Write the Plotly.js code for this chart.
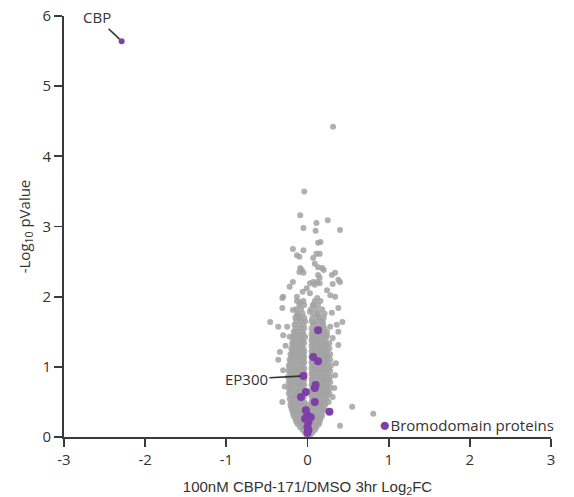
<!DOCTYPE html>
<html>
<head>
<meta charset="utf-8">
<script src="https://cdn.plot.ly/plotly-3.0.1.min.js"></script>
<style>html,body{margin:0;padding:0;background:#fff;}#chart{width:574px;height:497px;}</style>
</head>
<body>
<div id="chart"></div>
<script>
// ---- Data ----
// Gray: all quantified proteins, [log2FC, -log10 p]
const grayPoints = [
  [-0.01,0.02],[0.03,0.02],
  [-0.03,0.06],[0.02,0.06],[0.06,0.06],
  [-0.06,0.10],[-0.01,0.10],[0.04,0.10],[0.09,0.10],
  [-0.09,0.14],[-0.04,0.14],[0.01,0.14],[0.06,0.14],[0.11,0.14],
  [-0.12,0.18],[-0.07,0.18],[-0.03,0.18],[0.01,0.18],[0.06,0.18],[0.10,0.18],[0.14,0.18],
  [-0.14,0.22],[-0.09,0.22],[-0.04,0.22],[0.01,0.22],[0.05,0.22],[0.10,0.22],[0.15,0.22],
  [-0.15,0.26],[-0.10,0.26],[-0.05,0.26],[0.00,0.26],[0.06,0.26],[0.11,0.26],[0.16,0.26],
  [-0.17,0.30],[-0.12,0.30],[-0.06,0.30],[0.00,0.30],[0.05,0.30],[0.12,0.30],[0.18,0.30],
  [-0.18,0.34],[-0.13,0.34],[-0.08,0.34],[-0.03,0.34],[0.01,0.34],[0.06,0.34],[0.11,0.34],[0.17,0.34],
  [-0.19,0.38],[-0.14,0.38],[-0.09,0.38],[-0.04,0.38],[0.01,0.38],[0.06,0.38],[0.12,0.38],[0.18,0.38],[0.21,0.38],
  [-0.20,0.42],[-0.15,0.42],[-0.10,0.42],[-0.04,0.42],[0.00,0.42],[0.05,0.42],[0.10,0.42],[0.15,0.42],[0.20,0.42],
  [-0.21,0.46],[-0.16,0.46],[-0.11,0.46],[-0.05,0.46],[0.00,0.46],[0.06,0.46],[0.12,0.46],[0.17,0.46],[0.22,0.46],
  [-0.20,0.50],[-0.15,0.50],[-0.09,0.50],[-0.04,0.50],[0.05,0.50],[0.11,0.50],[0.16,0.50],[0.21,0.50],[0.26,0.50],
  [-0.22,0.54],[-0.17,0.54],[-0.12,0.54],[-0.06,0.54],[0.06,0.54],[0.12,0.54],[0.18,0.54],[0.23,0.54],
  [-0.21,0.58],[-0.15,0.58],[-0.10,0.58],[-0.04,0.58],[0.05,0.58],[0.10,0.58],[0.15,0.58],[0.20,0.58],[0.24,0.58],
  [-0.23,0.62],[-0.17,0.62],[-0.11,0.62],[-0.05,0.62],[0.06,0.62],[0.12,0.62],[0.17,0.62],[0.22,0.62],[0.27,0.62],
  [-0.22,0.66],[-0.16,0.66],[-0.10,0.66],[-0.04,0.66],[0.05,0.66],[0.11,0.66],[0.16,0.66],[0.21,0.66],[0.25,0.66],
  [-0.23,0.70],[-0.18,0.70],[-0.12,0.70],[-0.06,0.70],[0.06,0.70],[0.12,0.70],[0.18,0.70],[0.23,0.70],[0.28,0.70],
  [-0.21,0.74],[-0.15,0.74],[-0.09,0.74],[-0.04,0.74],[0.05,0.74],[0.10,0.74],[0.15,0.74],[0.20,0.74],[0.25,0.74],
  [-0.23,0.78],[-0.17,0.78],[-0.11,0.78],[-0.05,0.78],[0.06,0.78],[0.12,0.78],[0.17,0.78],[0.22,0.78],[0.28,0.78],
  [-0.22,0.82],[-0.16,0.82],[-0.10,0.82],[-0.04,0.82],[0.05,0.82],[0.11,0.82],[0.16,0.82],[0.21,0.82],[0.26,0.82],
  [-0.24,0.86],[-0.18,0.86],[-0.12,0.86],[-0.06,0.86],[0.06,0.86],[0.12,0.86],[0.18,0.86],[0.23,0.86],[0.28,0.86],
  [-0.21,0.90],[-0.15,0.90],[-0.09,0.90],[-0.04,0.90],[0.05,0.90],[0.10,0.90],[0.15,0.90],[0.20,0.90],[0.25,0.90],
  [-0.23,0.94],[-0.17,0.94],[-0.11,0.94],[-0.05,0.94],[0.06,0.94],[0.12,0.94],[0.17,0.94],[0.22,0.94],[0.28,0.94],
  [-0.22,0.98],[-0.16,0.98],[-0.10,0.98],[-0.04,0.98],[0.05,0.98],[0.11,0.98],[0.16,0.98],[0.21,0.98],[0.26,0.98],
  [-0.23,1.02],[-0.18,1.02],[-0.12,1.02],[-0.06,1.02],[0.06,1.02],[0.12,1.02],[0.18,1.02],[0.23,1.02],[0.29,1.02],
  [-0.21,1.06],[-0.15,1.06],[-0.09,1.06],[-0.04,1.06],[0.05,1.06],[0.10,1.06],[0.15,1.06],[0.20,1.06],[0.25,1.06],
  [-0.22,1.10],[-0.17,1.10],[-0.11,1.10],[-0.05,1.10],[0.06,1.10],[0.12,1.10],[0.17,1.10],[0.22,1.10],[0.28,1.10],
  [-0.20,1.14],[-0.14,1.14],[-0.09,1.14],[-0.04,1.14],[0.05,1.14],[0.11,1.14],[0.16,1.14],[0.21,1.14],[0.25,1.14],
  [-0.21,1.18],[-0.16,1.18],[-0.10,1.18],[-0.05,1.18],[0.06,1.18],[0.12,1.18],[0.18,1.18],[0.23,1.18],[0.28,1.18],
  [-0.19,1.22],[-0.14,1.22],[-0.08,1.22],[-0.04,1.22],[0.05,1.22],[0.10,1.22],[0.15,1.22],[0.20,1.22],[0.24,1.22],
  [-0.20,1.26],[-0.15,1.26],[-0.10,1.26],[-0.05,1.26],[0.06,1.26],[0.12,1.26],[0.17,1.26],[0.22,1.26],[0.27,1.26],
  [-0.18,1.30],[-0.12,1.30],[-0.07,1.30],[0.05,1.30],[0.10,1.30],[0.15,1.30],[0.20,1.30],[0.24,1.30],
  [-0.19,1.34],[-0.14,1.34],[-0.09,1.34],[-0.04,1.34],[0.06,1.34],[0.12,1.34],[0.17,1.34],[0.22,1.34],[0.27,1.34],
  [-0.17,1.38],[-0.11,1.38],[-0.06,1.38],[0.05,1.38],[0.10,1.38],[0.15,1.38],[0.21,1.38],
  [-0.18,1.42],[-0.13,1.42],[-0.08,1.42],[-0.03,1.42],[0.06,1.42],[0.12,1.42],[0.17,1.42],[0.23,1.42],
  [-0.16,1.46],[-0.10,1.46],[-0.05,1.46],[0.05,1.46],[0.10,1.46],[0.16,1.46],[0.20,1.46],
  [-0.17,1.50],[-0.12,1.50],[-0.06,1.50],[0.06,1.50],[0.12,1.50],[0.18,1.50],[0.24,1.50],
  [-0.15,1.55],[-0.09,1.55],[-0.04,1.55],[0.05,1.55],[0.10,1.55],[0.16,1.55],[0.21,1.55],
  [-0.16,1.60],[-0.11,1.60],[-0.05,1.60],[0.07,1.60],[0.13,1.60],[0.19,1.60],
  [-0.14,1.65],[-0.08,1.65],[-0.03,1.65],[0.05,1.65],[0.11,1.65],[0.17,1.65],
  [-0.15,1.70],[-0.10,1.70],[-0.04,1.70],[0.06,1.70],[0.13,1.70],[0.20,1.70],
  [-0.12,1.76],[-0.06,1.76],[0.08,1.76],[0.14,1.76],[0.21,1.76],
  [-0.14,1.82],[-0.08,1.82],[0.04,1.82],[0.11,1.82],[0.18,1.82],
  [-0.10,1.88],[-0.04,1.88],[0.07,1.88],[0.13,1.88],
  [-0.13,1.94],[-0.05,1.94],[0.09,1.94],[0.16,1.94],
  // sparse upper points
  [-0.09,2.41],[-0.07,2.38],[0.13,2.42],[0.18,2.41],[0.34,2.34],[0.38,2.24],
  [-0.18,2.21],[-0.22,2.14],[0.12,2.21],[0.15,2.19],[-0.01,2.12],[-0.06,2.07],
  [0.03,2.05],[0.24,2.09],[0.28,2.02],[-0.30,2.00],[-0.31,1.84],[-0.13,2.00],
  [-0.09,1.92],[0.12,1.98],[0.07,1.88],[0.34,2.00],[0.38,1.84],[-0.18,1.81],
  [-0.13,1.74],[-0.09,1.70],[0.03,1.78],[0.12,1.74],[0.15,1.70],[0.07,1.64],
  [0.19,1.64],[0.30,1.77],[-0.46,1.64],[-0.36,1.57],[-0.25,1.57],[0.28,1.57],
  [0.36,1.60],[0.43,1.64],[-0.30,1.45],[-0.22,1.43],[0.24,1.45],[0.31,1.41],
  [0.315,4.42],[-0.04,3.50],[-0.09,3.16],[0.25,3.09],[-0.05,2.98],[0.11,3.05],
  [0.10,2.94],[0.40,2.95],[0.13,2.77],[0.16,2.78],[-0.18,2.68],[-0.05,2.66],
  [-0.13,2.59],[0.11,2.61],[0.15,2.61],[-0.10,2.57],[0.07,2.55],[0.09,2.47],
  [-0.10,2.35],[-0.05,2.34],[0.20,2.38],[0.30,2.31],[0.13,2.31],[0.15,2.27],
  [0.07,2.21],[0.03,2.19],[0.09,2.17],[0.40,2.21],[0.31,2.18],[-0.31,1.98],
  // side outliers
  [-0.34,1.21],[-0.36,1.10],[-0.31,0.50],[0.55,0.43],[0.38,1.31],[0.31,0.57],
  [0.81,0.33],[0.40,0.16],[-0.30,0.95],[-0.28,0.72],[0.34,0.88],[0.35,1.05],[0.33,0.70],
  [0.38,1.50],[-0.27,1.30]
];

// Purple: bromodomain proteins (CBP is the outlier on its own)
const cbpFC = [-2.29];
const cbpP  = [5.64];
const bromoFC = [0.13, 0.07, 0.13, -0.05, 0.10, 0.09, -0.02, -0.08, 0.09, 0.27, -0.02, 0.00, 0.04, -0.03, 0.01, 0.00, 0.01, 0.00];
const bromoP  = [1.52, 1.14, 1.08,  0.87, 0.74, 0.70,  0.64,  0.57, 0.50, 0.36,  0.38, 0.31, 0.28,  0.26, 0.21, 0.14, 0.10, 0.06];

const labelCBP = {name: "CBP", fc: -2.29, p: 5.64};
const labelEP300 = {name: "EP300", fc: -0.05, p: 0.87};
const legendLabel = "Bromodomain proteins";

const xTicks = [-3, -2, -1, 0, 1, 2, 3];
const yTicks = [0, 1, 2, 3, 4, 5, 6];

// ---- Plot ----
const purpleColor = "#7e3fa6";
const gray = {
  type: "scatter", mode: "markers",
  x: grayPoints.map(d => d[0]), y: grayPoints.map(d => d[1]),
  marker: {size: 6, color: "rgb(162,162,162)", opacity: 0.85},
  showlegend: false, hoverinfo: "x+y", cliponaxis: false
};
const purple = {
  type: "scatter", mode: "markers",
  x: bromoFC, y: bromoP,
  marker: {size: 8, color: purpleColor},
  name: legendLabel, showlegend: false, cliponaxis: false
};
const cbp = {
  type: "scatter", mode: "markers",
  x: cbpFC, y: cbpP,
  marker: {size: 6, color: purpleColor},
  name: "CBP", showlegend: false, cliponaxis: false
};

const tickFont = {family: "Open Sans, Noto Sans, sans-serif", size: 15, color: "#333"};
const axisCommon = {
  showline: true, linecolor: "#3a3a3a", linewidth: 1.8,
  ticks: "outside", ticklen: 8, tickwidth: 1.8, tickcolor: "#3a3a3a",
  showgrid: false, zeroline: false, tickfont: tickFont, fixedrange: true
};

const layout = {
  width: 574, height: 497,
  margin: {l: 64, r: 23, t: 16, b: 60},
  paper_bgcolor: "#fff", plot_bgcolor: "#fff",
  xaxis: Object.assign({}, axisCommon, {
    range: [-3, 3], tickvals: xTicks, ticktext: xTicks.map(String),
    title: {text: "100nM CBPd-171/DMSO 3hr Log<sub>2</sub>FC",
            font: {family: "Liberation Sans, Arial, sans-serif", size: 15, color: "#333"}, standoff: 14}
  }),
  yaxis: Object.assign({}, axisCommon, {
    range: [0, 6], tickvals: yTicks, ticktext: yTicks.map(String),
    title: {text: "-Log<sub>10</sub> pValue",
            font: {family: "Open Sans, Noto Sans, sans-serif", size: 15, color: "#333"}, standoff: 8}
  }),
  annotations: [
    {x: labelCBP.fc, y: labelCBP.p, xref: "x", yref: "y", text: labelCBP.name,
     showarrow: true, arrowhead: 0, arrowwidth: 1.6, arrowcolor: "#333", ax: -25, ay: -24, standoff: 3,
     font: {family: "Open Sans, sans-serif", size: 15, color: "#333"}},
    {x: labelEP300.fc, y: labelEP300.p, xref: "x", yref: "y", text: labelEP300.name,
     showarrow: true, arrowhead: 0, arrowwidth: 1.6, arrowcolor: "#333", ax: -57, ay: 3, standoff: 3,
     font: {family: "Open Sans, sans-serif", size: 15, color: "#333"}},
    {x: 0.643, y: 0.031, xref: "paper", yref: "paper", xanchor: "left", yanchor: "middle",
     text: '<span style="color:' + purpleColor + ';font-size:19px">●</span>' + legendLabel, showarrow: false,
     font: {family: "Open Sans, sans-serif", size: 15, color: "#333"}}
  ]
};

Plotly.newPlot("chart", [gray, purple, cbp], layout, {displayModeBar: false, staticPlot: true});
</script>
</body>
</html>
